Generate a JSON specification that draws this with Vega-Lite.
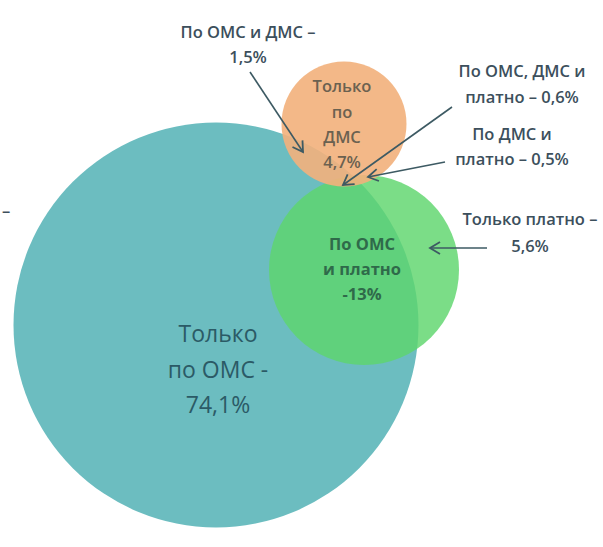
{
  "$schema": "https://vega.github.io/schema/vega-lite/v6.json",
  "width": 603,
  "height": 547,
  "autosize": {"type": "fit", "contains": "padding"},
  "padding": 0,
  "background": "white",
  "config": {"view": {"stroke": null}, "text": {"font": "Open Sans"}},
  "datasets": {
    "circles": [
      {"set": "ОМС", "x": 216, "y": 325, "d": 405, "color": "ОМС"},
      {"set": "ДМС", "x": 344, "y": 124, "d": 125, "color": "ДМС"},
      {"set": "Платно", "x": 364, "y": 270, "d": 190, "color": "Платно"}
    ],
    "arrows": [
      {"label": "По ОМС и ДМС", "x": 250, "y": 72, "x2": 303, "y2": 152, "angle": 56.5},
      {"label": "По ОМС, ДМС и платно", "x": 452, "y": 107, "x2": 343, "y2": 185, "angle": 144.4},
      {"label": "По ДМС и платно", "x": 445, "y": 162, "x2": 368, "y2": 177, "angle": 169},
      {"label": "Только платно", "x": 487, "y": 248, "x2": 430, "y2": 248, "angle": 180}
    ],
    "outerLabels": [
      {"x": 248, "y": 33, "text": "По ОМС и ДМС –"},
      {"x": 248, "y": 58, "text": "1,5%"},
      {"x": 522, "y": 72, "text": "По ОМС, ДМС и"},
      {"x": 522, "y": 98, "text": "платно – 0,6%"},
      {"x": 512, "y": 135, "text": "По ДМС и"},
      {"x": 512, "y": 160, "text": "платно – 0,5%"},
      {"x": 530, "y": 220, "text": "Только платно –"},
      {"x": 530, "y": 247, "text": "5,6%"},
      {"x": 6, "y": 212, "text": "–"}
    ],
    "dmsLabels": [
      {"x": 342, "y": 87, "text": "Только"},
      {"x": 342, "y": 113, "text": "по"},
      {"x": 342, "y": 138, "text": "ДМС"},
      {"x": 342, "y": 163, "text": "4,7%"}
    ],
    "greenLabels": [
      {"x": 362, "y": 245, "text": "По ОМС"},
      {"x": 362, "y": 270, "text": "и платно"},
      {"x": 362, "y": 295, "text": "-13%"}
    ],
    "omsLabels": [
      {"x": 218, "y": 335, "text": "Только"},
      {"x": 218, "y": 371, "text": "по ОМС -"},
      {"x": 218, "y": 406, "text": "74,1%"}
    ]
  },
  "encoding": {
    "x": {"field": "x", "type": "quantitative", "scale": {"domain": [0, 603], "nice": false, "zero": false}, "axis": null},
    "y": {"field": "y", "type": "quantitative", "scale": {"domain": [0, 547], "nice": false, "zero": false, "reverse": true}, "axis": null}
  },
  "layer": [
    {
      "data": {"name": "circles"},
      "mark": {"type": "point", "shape": "circle", "filled": true, "strokeWidth": 0},
      "encoding": {
        "size": {"field": "d", "type": "quantitative", "scale": {"type": "pow", "exponent": 2, "domain": [0, 100], "range": [0, 10000]}, "legend": null},
        "color": {"field": "color", "type": "nominal", "scale": {"domain": ["ОМС", "ДМС", "Платно"], "range": ["#6cbdc0", "#f2b17c", "#5ed66c"]}, "legend": null},
        "opacity": {"field": "color", "type": "nominal", "scale": {"domain": ["ОМС", "ДМС", "Платно"], "range": [1, 0.82, 0.64]}, "legend": null},
        "order": {"field": "d", "sort": "descending"}
      }
    },
    {
      "data": {"name": "arrows"},
      "mark": {"type": "rule", "color": "#3d5a63", "strokeWidth": 1.6},
      "encoding": {
        "x2": {"field": "x2"},
        "y2": {"field": "y2"}
      }
    },
    {
      "data": {"name": "arrows"},
      "mark": {"type": "point", "shape": "M-1,-0.6L0,0L-1,0.6", "filled": false, "color": "#3d5a63", "strokeWidth": 1.8, "size": 400, "opacity": 1},
      "encoding": {
        "x": {"field": "x2", "type": "quantitative"},
        "y": {"field": "y2", "type": "quantitative"},
        "angle": {"field": "angle", "type": "quantitative", "scale": null}
      }
    },
    {
      "data": {"name": "outerLabels"},
      "mark": {"type": "text", "fontSize": 16.5, "fontWeight": 600, "color": "#3c4f5c", "align": "center", "baseline": "middle"},
      "encoding": {"text": {"field": "text"}}
    },
    {
      "data": {"name": "dmsLabels"},
      "mark": {"type": "text", "fontSize": 16.5, "fontWeight": 600, "color": "#6b6150", "align": "center", "baseline": "middle"},
      "encoding": {"text": {"field": "text"}}
    },
    {
      "data": {"name": "greenLabels"},
      "mark": {"type": "text", "fontSize": 16.5, "fontWeight": "bold", "color": "#2f6a4a", "align": "center", "baseline": "middle"},
      "encoding": {"text": {"field": "text"}}
    },
    {
      "data": {"name": "omsLabels"},
      "mark": {"type": "text", "fontSize": 23, "fontWeight": "normal", "color": "#2b5a66", "align": "center", "baseline": "middle"},
      "encoding": {"text": {"field": "text"}}
    }
  ]
}
